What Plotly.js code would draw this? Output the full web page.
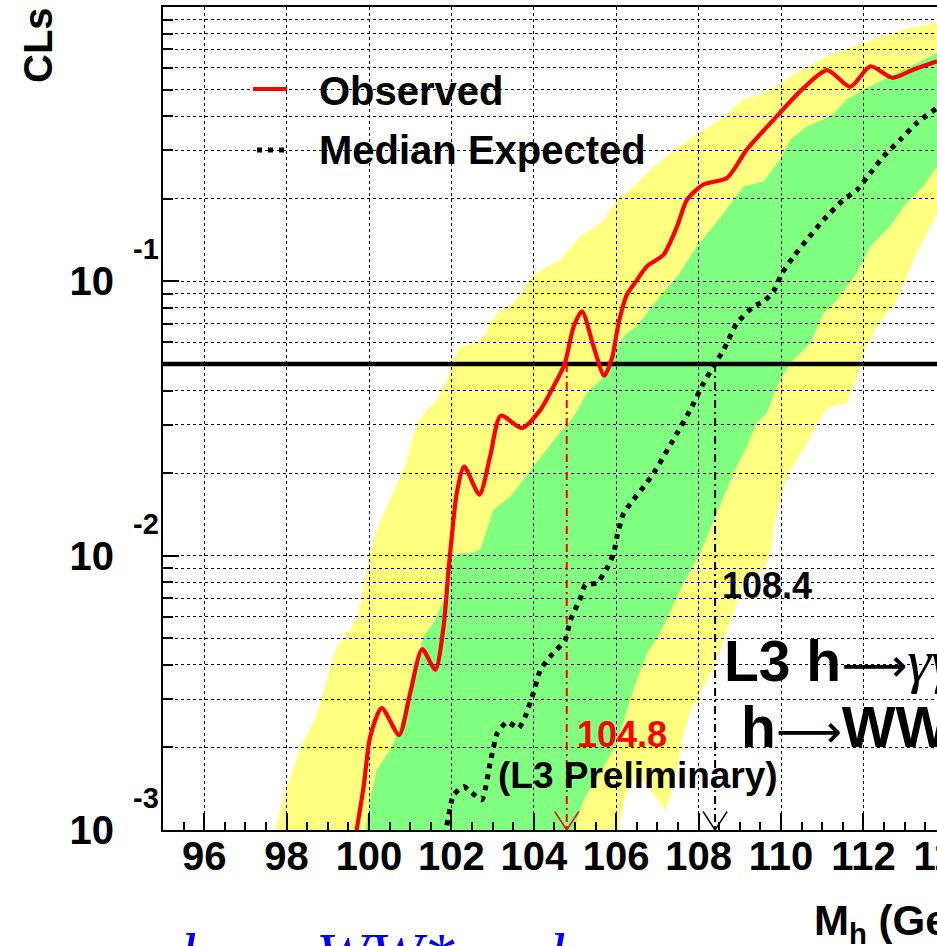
<!DOCTYPE html>
<html><head><meta charset="utf-8">
<script src="https://cdn.plot.ly/plotly-3.0.1.min.js"></script>
<style>
html,body{margin:0;padding:0;overflow:hidden;background:#fff;width:937px;height:946px}
#chart{width:1193px;height:946px}
</style>
</head><body><div id="chart"></div>
<script>
// ---------------- data ----------------
const xRange = [95, 120];
const yRange = [0.001, 1];
const clsLimit = 0.05;
const obsLimit = 104.8;
const expLimit = 108.4;

const massObs = [99.70, 99.87, 100.03, 100.31, 100.73, 101.00, 101.29, 101.61, 101.81, 101.93, 102.01, 102.13, 102.31, 102.68, 102.94, 103.20, 103.71, 104.16, 104.48, 104.75, 104.97, 105.17, 105.45, 105.71, 105.90, 106.05, 106.25, 106.45, 106.75, 107.15, 107.48, 107.72, 108.12, 108.69, 109.17, 109.90, 110.55, 111.12, 111.68, 112.17, 112.70, 113.22, 113.79];
const clsObs  = [0.00100, 0.00144, 0.00219, 0.00278, 0.00222, 0.00316, 0.00456, 0.00384, 0.00552, 0.00887, 0.01175, 0.0169, 0.0211, 0.0167, 0.0230, 0.0324, 0.0292, 0.0340, 0.0414, 0.0500, 0.0686, 0.0778, 0.0579, 0.0453, 0.0527, 0.0695, 0.0887, 0.0985, 0.1135, 0.1250, 0.1589, 0.1986, 0.2254, 0.2382, 0.3020, 0.3999, 0.5070, 0.5888, 0.5117, 0.6081, 0.5521, 0.5916, 0.6339];

const massExp = [101.89, 102.05, 102.30, 102.46, 102.74, 102.94, 103.11, 103.35, 103.63, 103.79, 103.99, 104.16, 104.40, 104.76, 104.89, 105.13, 105.25, 105.53, 105.78, 105.94, 106.02, 106.18, 106.42, 106.67, 106.91, 107.48, 107.80, 108.12, 108.41, 108.61, 108.93, 109.34, 109.58, 109.82, 110.03, 110.31, 110.63, 111.04, 111.52, 111.85, 112.17, 112.49, 112.90, 113.30, 113.79];
const clsExp  = [0.00104, 0.00134, 0.00144, 0.00138, 0.00129, 0.00175, 0.00225, 0.00248, 0.00235, 0.00259, 0.00316, 0.00384, 0.00429, 0.00493, 0.00583, 0.00700, 0.00783, 0.00794, 0.00902, 0.01021, 0.01175, 0.01429, 0.01600, 0.01786, 0.02000, 0.02799, 0.03404, 0.04256, 0.05035, 0.05636, 0.07047, 0.08110, 0.08453, 0.09204, 0.1074, 0.1233, 0.1419, 0.1679, 0.1986, 0.2158, 0.2483, 0.2858, 0.3289, 0.3784, 0.4285];

// +2 sigma band edge (left / high-CLs side) and -2 sigma edge (right side)
const band2UpMass = [97.72, 98.01, 98.33, 98.65, 98.82, 99.06, 99.22, 99.54, 99.71, 99.79, 100.03, 100.19, 100.47, 100.72, 100.84, 101.16, 101.41, 101.65, 101.89, 102.05, 102.21, 102.70, 103.11, 103.51, 103.91, 104.08, 104.64, 105.13, 105.69, 106.02, 106.34, 106.75, 107.31, 107.96, 108.53, 109.09, 109.50, 109.98, 110.23, 111.12, 112.01, 112.98, 113.79];
const band2UpCls  = [0.00100, 0.00144, 0.00201, 0.00245, 0.00290, 0.00394, 0.00467, 0.00537, 0.00600, 0.00671, 0.01021, 0.01242, 0.01556, 0.01892, 0.02056, 0.03041, 0.03404, 0.03698, 0.04375, 0.05176, 0.05794, 0.06039, 0.07674, 0.08337, 0.1014, 0.1074, 0.1199, 0.1459, 0.1656, 0.1986, 0.2158, 0.2483, 0.2938, 0.3428, 0.3890, 0.4603, 0.4797, 0.5224, 0.5598, 0.6622, 0.7413, 0.8279, 0.8770];
const band2LoMass = [106.06, 106.18, 106.50, 106.75, 107.00, 107.19, 107.39, 107.64, 107.76, 108.04, 108.37, 108.61, 108.85, 109.09, 109.58, 109.74, 109.86, 110.06, 110.23, 110.63, 111.04, 111.20, 111.60, 111.85, 112.01, 112.33, 112.82, 113.22, 113.63, 113.79];
const band2LoCls  = [0.00100, 0.00129, 0.00158, 0.00145, 0.00129, 0.00118, 0.00144, 0.00225, 0.00262, 0.00316, 0.00394, 0.00493, 0.00618, 0.00817, 0.00887, 0.01021, 0.01352, 0.01786, 0.02056, 0.02570, 0.03311, 0.03499, 0.03597, 0.04498, 0.05483, 0.06855, 0.08570, 0.1199, 0.1589, 0.1774];

// +1 sigma band edge and -1 sigma edge
const band1UpMass = [99.91, 100.03, 100.19, 100.56, 100.76, 101.00, 101.32, 101.57, 101.81, 102.05, 102.21, 102.46, 102.70, 103.02, 103.43, 103.99, 104.56, 104.97, 105.29, 105.75, 105.94, 106.26, 106.50, 106.99, 107.48, 107.96, 108.61, 109.09, 109.58, 109.98, 110.23, 110.63, 111.20, 111.60, 112.01, 112.49, 112.98, 113.79];
const band1UpCls  = [0.00100, 0.00129, 0.00166, 0.00201, 0.00245, 0.00343, 0.00507, 0.00568, 0.00690, 0.00993, 0.01021, 0.01021, 0.01050, 0.01469, 0.01644, 0.02113, 0.02723, 0.03221, 0.03917, 0.0457, 0.05636, 0.06486, 0.06855, 0.08570, 0.1042, 0.1343, 0.1774, 0.2223, 0.2317, 0.2780, 0.3289, 0.3673, 0.3999, 0.4603, 0.5000, 0.5445, 0.5916, 0.6808];
const band1LoMass = [104.97, 105.21, 105.69, 106.02, 106.26, 106.50, 106.75, 107.07, 107.31, 107.64, 108.04, 108.28, 108.61, 108.85, 109.17, 109.41, 109.66, 109.90, 110.23, 110.71, 111.04, 111.36, 111.85, 112.17, 112.65, 112.98, 113.46, 113.79];
const band1LoCls  = [0.00100, 0.00129, 0.00170, 0.00207, 0.00274, 0.00352, 0.00441, 0.00522, 0.00624, 0.00794, 0.01021, 0.01242, 0.01644, 0.02000, 0.02500, 0.03041, 0.03311, 0.04140, 0.05035, 0.05957, 0.07674, 0.08570, 0.1074, 0.1343, 0.1589, 0.1879, 0.2223, 0.2630];

// ticks and labels
const yTickVals = [0.001, 0.01, 0.1];
const yTickText = ['10', '10', '10'];
const yTickExp  = ['-3', '-2', '-1'];
const yMinorVals = [0.002,0.003,0.004,0.005,0.006,0.007,0.008,0.009,0.02,0.03,0.04,0.05,0.06,0.07,0.08,0.09,0.2,0.3,0.4,0.5,0.6,0.7,0.8,0.9];
const legendLabels = ['Observed', 'Median Expected'];
const yTitle = 'CLs';
const xTitle = 'M<sub>h</sub> (GeV)';
const channelLine1 = 'L3 h<span style="font-family:\'DejaVu Sans\';font-weight:normal;font-size:46px">⟶</span><span style="font-family:\'Liberation Serif\';font-weight:normal;font-size:60px"><i>γγ</i></span>';
const channelLine2 = 'h<span style="font-family:\'DejaVu Sans\';font-weight:normal;font-size:46px">⟶</span>WW';
const prelimText = '(L3 Preliminary)';
const captionParts = ['h', 'WW*', 'l'];

// ---------------- layout helpers (pixel -> paper) ----------------
const L = 163, T = 7, W = 1030, H = 823;
const PX = v => (v - L) / W;
const PY = v => (T + H - v) / H;
const FONT = 'Liberation Sans, Arial, Helvetica, sans-serif';

const poly = (ax, ay, bx, by) => ({
  x: ax.concat(bx.slice().reverse()),
  y: ay.concat(by.slice().reverse())
});
const yellow = poly(band2UpMass, band2UpCls, band2LoMass, band2LoCls);
const green  = poly(band1UpMass, band1UpCls, band1LoMass, band1LoCls);

const traces = [
  {x: yellow.x, y: yellow.y, xaxis: 'x', yaxis: 'y', mode: 'lines', fill: 'toself',
   fillcolor: '#ffff80', line: {width: 0, color: '#ffff80'}, hoverinfo: 'skip', showlegend: false},
  {x: green.x, y: green.y, xaxis: 'x', yaxis: 'y', mode: 'lines', fill: 'toself',
   fillcolor: '#80ff80', line: {width: 0, color: '#80ff80'}, hoverinfo: 'skip', showlegend: false},
  // on the grid subplot (drawn above the grid)
  {x: xRange, y: [clsLimit, clsLimit], xaxis: 'x2', yaxis: 'y2', mode: 'lines',
   line: {color: 'black', width: 4.5}, showlegend: false},
  {x: [obsLimit, obsLimit], y: [clsLimit, yRange[0]], xaxis: 'x2', yaxis: 'y2', mode: 'lines',
   line: {color: '#ff0000', width: 2, dash: '8px,4px,2px,4px'}, showlegend: false},
  {x: [expLimit, expLimit], y: [clsLimit, yRange[0]], xaxis: 'x2', yaxis: 'y2', mode: 'lines',
   line: {color: 'black', width: 2, dash: '8px,4px,2px,4px'}, showlegend: false},
  {x: massExp, y: clsExp, xaxis: 'x2', yaxis: 'y2', mode: 'lines', name: legendLabels[1],
   line: {color: 'black', width: 5, dash: '5px,6px', shape: 'spline', smoothing: 0.5}, showlegend: false},
  {x: massObs, y: clsObs, xaxis: 'x2', yaxis: 'y2', mode: 'lines', name: legendLabels[0],
   line: {color: '#ff0000', width: 4.2, shape: 'spline', smoothing: 0.7}, showlegend: false}
];

const gridStyle = {showgrid: true, gridcolor: 'black', gridwidth: 1, griddash: '3px,3px'};
const lg = v => Math.log10(v);

const annotations = [];
// y tick exponents
yTickVals.forEach((v, i) => annotations.push({
  xref: 'paper', yref: 'y2', x: PX(131), y: lg(v), xanchor: 'left', yanchor: 'middle',
  yshift: 32, showarrow: false, text: yTickExp[i],
  font: {family: FONT, size: 29, color: 'black', weight: 'bold'}
}));
// axis titles
annotations.push({xref: 'paper', yref: 'paper', x: PX(38), y: PY(45), textangle: -90,
  xanchor: 'center', yanchor: 'middle', showarrow: false, text: yTitle,
  font: {family: FONT, size: 40, color: 'black', weight: 'bold'}});
annotations.push({xref: 'paper', yref: 'paper', x: PX(812), y: PY(895), xanchor: 'left', yanchor: 'top',
  showarrow: false, text: xTitle, font: {family: FONT, size: 42, color: 'black', weight: 'bold'}});
// legend texts
annotations.push({xref: 'paper', yref: 'paper', x: PX(317), y: PY(90.5), xanchor: 'left', yanchor: 'middle',
  showarrow: false, text: legendLabels[0], font: {family: FONT, size: 40, color: 'black', weight: 'bold'}});
annotations.push({xref: 'paper', yref: 'paper', x: PX(317), y: PY(150.5), xanchor: 'left', yanchor: 'middle',
  showarrow: false, text: legendLabels[1], font: {family: FONT, size: 40, color: 'black', weight: 'bold'}});
// limit labels
annotations.push({xref: 'x2', yref: 'paper', x: obsLimit, xshift: 8, y: PY(734), xanchor: 'left', yanchor: 'middle',
  showarrow: false, text: obsLimit.toFixed(1), font: {family: FONT, size: 36, color: '#ff0000', weight: 'bold'}});
annotations.push({xref: 'x2', yref: 'paper', x: expLimit, xshift: 5, y: PY(585), xanchor: 'left', yanchor: 'middle',
  showarrow: false, text: expLimit.toFixed(1), font: {family: FONT, size: 36, color: 'black', weight: 'bold'}});
// arrow heads at the bottom of the limit lines
[[obsLimit, '#ff0000'], [expLimit, 'black']].forEach(([m, c]) => {
  [-13, 13].forEach(dx => annotations.push({xref: 'x2', yref: 'y2', x: m, y: lg(yRange[0]),
    ax: dx, ay: -20, showarrow: true, arrowhead: 0, arrowwidth: 1.4, arrowcolor: c,
    text: '', font: {size: 1}}));
});
// texts
annotations.push({xref: 'paper', yref: 'paper', x: PX(496), y: PY(775.5), xanchor: 'left', yanchor: 'middle',
  showarrow: false, text: prelimText, font: {family: FONT, size: 37, color: 'black', weight: 'bold'}});
annotations.push({xref: 'paper', yref: 'paper', x: PX(722), y: PY(661), xanchor: 'left', yanchor: 'middle',
  showarrow: false, text: channelLine1, font: {family: FONT, size: 57, color: 'black', weight: 'bold'}});
annotations.push({xref: 'paper', yref: 'paper', x: PX(739), y: PY(727), xanchor: 'left', yanchor: 'middle',
  showarrow: false, text: channelLine2, font: {family: FONT, size: 57, color: 'black', weight: 'bold'}});
// blue caption below (cut by the page edge)
[[178, captionParts[0]], [314, captionParts[1]], [546, captionParts[2]]].forEach(([px, t]) =>
  annotations.push({xref: 'paper', yref: 'paper', x: PX(px), y: PY(918), xanchor: 'left', yanchor: 'top',
    showarrow: false, text: '<i>' + t + '</i>',
    font: {family: 'Liberation Serif, Times New Roman, serif', size: 64, color: '#0000ff'}}));

const shapes = [
  {type: 'line', xref: 'paper', yref: 'paper', x0: PX(253), x1: PX(287), y0: PY(89), y1: PY(89),
   line: {color: '#ff0000', width: 4.2}},
  {type: 'line', xref: 'paper', yref: 'paper', x0: PX(257), x1: PX(288), y0: PY(150), y1: PY(150),
   line: {color: 'black', width: 5, dash: '5px,6px'}}
];

const layout = {
  width: 1193, height: 946,
  margin: {l: L, r: 0, t: T, b: 946 - T - H, pad: 0},
  paper_bgcolor: 'white', plot_bgcolor: 'rgba(0,0,0,0)',
  showlegend: false,
  font: {family: FONT, color: 'black'},
  xaxis: {domain: [0, 1], range: xRange, anchor: 'y', visible: false, fixedrange: true},
  yaxis: {domain: [0, 1], type: 'log', range: [lg(yRange[0]), lg(yRange[1])], anchor: 'x', visible: false, fixedrange: true},
  xaxis2: Object.assign({domain: [0, 1], range: xRange, anchor: 'y2', showline: true, linecolor: 'black', linewidth: 2,
    mirror: true, ticks: 'inside', ticklen: 17, tickwidth: 2, tickcolor: 'black', tick0: 0, dtick: 2,
    zeroline: false, ticklabelstandoff: -10,
    tickfont: {family: FONT, size: 40, color: 'black', weight: 'bold'},
    minor: {ticks: 'inside', ticklen: 8, tickwidth: 2, tickcolor: 'black', tick0: 0, dtick: 0.5, showgrid: false}},
    gridStyle),
  yaxis2: Object.assign({domain: [0, 1], type: 'log', range: [lg(yRange[0]), lg(yRange[1])], anchor: 'x2',
    showline: true, linecolor: 'black', linewidth: 2, mirror: false,
    ticks: 'inside', ticklen: 16, tickwidth: 2, tickcolor: 'black',
    tickmode: 'array', tickvals: yTickVals, ticktext: yTickText, ticklabelstandoff: 39,
    tickfont: {family: FONT, size: 40, color: 'black', weight: 'bold'}, zeroline: false,
    minor: Object.assign({tickmode: 'array', tickvals: yMinorVals, ticks: 'inside', ticklen: 10, tickwidth: 2, tickcolor: 'black'}, gridStyle)},
    gridStyle),
  annotations: annotations,
  shapes: shapes
};

Plotly.newPlot('chart', traces, layout, {staticPlot: true, displayModeBar: false});
</script>
</body></html>
